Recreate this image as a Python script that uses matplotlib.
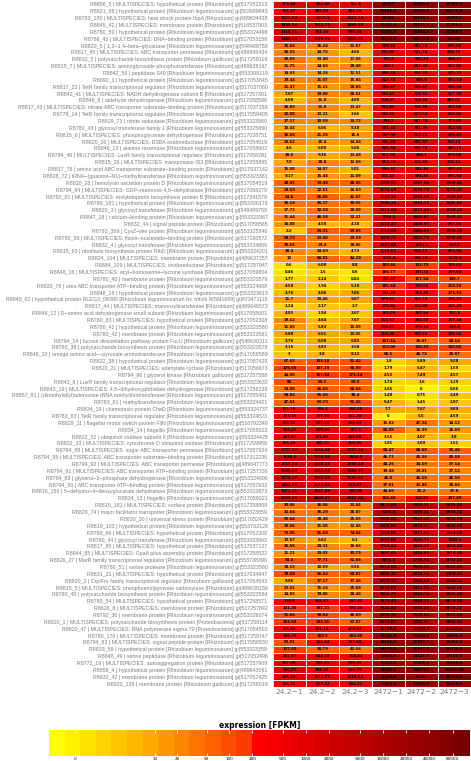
import numpy as np
import matplotlib
matplotlib.use('Agg')
import matplotlib.pyplot as plt
from matplotlib.colors import LinearSegmentedColormap, BoundaryNorm, ListedColormap

# row labels, top to bottom
genes = [
    "R8856_5 | MULTISPECIES: hypothetical protein [Rhizobium] gi|517052313",
    "R8821_88 | hypothetical protein [Rhizobium leguminosarum] gi|502689843",
    "R8783_180 | MULTISPECIES: heat shock protein IbpA [Rhizobium] gi|489634438",
    "R8845_42 | MULTISPECIES: membrane protein [Rhizobium] gi|516537903",
    "R8780_50 | hypothetical protein [Rhizobium leguminosarum] gi|553324498",
    "R8786_43 | MULTISPECIES: DNA\u2212binding protein [Rhizobium] gi|517053158",
    "R8820_5 | 1,3\u22121,4\u2212beta\u2212glycanase [Rhizobium leguminosarum] gi|548489758",
    "R8817_45 | MULTISPECIES: ABC transporter permease [Rhizobium] gi|489845434",
    "R8832_5 | polysaccharide biosynthesis protein [Rhizobium gallicum] gi|517259119",
    "R8815_7 | MULTISPECIES: aminoglycoside phosphotransferase [Rhizobium] gi|489638167",
    "R8842_56 | peptidase S49 [Rhizobium leguminosarum] gi|553308119",
    "R8892_1 | hypothetical protein [Rhizobium leguminosarum] gi|517053845",
    "R8817_23 | TetR family transcriptional regulator [Rhizobium leguminosarum] gi|517037060",
    "R8842_41 | MULTISPECIES: NADH dehydrogenase subunit B [Rhizobium] gi|517257301",
    "R8846_8 | aldehyde dehydrogenase [Rhizobium leguminosarum] gi|517058598",
    "R8817_43 | MULTISPECIES: nitrate ABC transporter substrate\u2212binding protein [Rhizobium] gi|517037159",
    "R8779_14 | TetR family transcriptional regulator [Rhizobium leguminosarum] gi|517059405",
    "R8829_73 | nitrite reductase [Rhizobium leguminosarum] gi|553323860",
    "R8780_43 | glycosyl transferase family 1 [Rhizobium leguminosarum] gi|553325860",
    "R8815_6 | MULTISPECIES: phosphoglycerate dehydrogenase [Rhizobium] gi|517038751",
    "R8820_26 | MULTISPECIES: DSBA oxidoreductase [Rhizobium] gi|517054519",
    "R8846_13 | alanine racemase [Rhizobium leguminosarum] gi|517058602",
    "R8794_46 | MULTISPECIES: LuxR family transcriptional regulator [Rhizobium] gi|517058291",
    "R8815_26 | MULTISPECIES: transposase IS3 [Rhizobium] gi|517055865",
    "R8817_78 | amino acid ABC transporter substrate\u2212binding protein [Rhizobium] gi|517037142",
    "R8828_72 | tRNA\u2212(guanine\u2212N1)\u2212methyltransferase [Rhizobium leguminosarum] gi|553323381",
    "R8820_28 | hemolysin secretion protein D [Rhizobium leguminosarum] gi|517054519",
    "R8794_84 | MULTISPECIES: GDP\u2212mannose 4,6\u2212dehydratase [Rhizobium] gi|517058279",
    "R8792_81 | MULTISPECIES: molybdopterin biosynthesis protein B [Rhizobium] gi|517341579",
    "R8780_181 | hypothetical protein [Rhizobium leguminosarum] gi|553326179",
    "R8820_3 | glycosyl transferase [Rhizobium leguminosarum] gi|548489758",
    "R8847_18 | calcium\u2212binding protein [Rhizobium leguminosarum] gi|553323367",
    "R8832_44 | signal peptide protein [Rhizobium] gi|517058565",
    "R8783_309 | CysZ\u2212like protein [Rhizobium leguminosarum] gi|553325846",
    "R8780_58 | MULTISPECIES: flavin\u2212nucleotide\u2212binding protein [Rhizobium] gi|517260572",
    "R8832_4 | glycosyl transferase [Rhizobium leguminosarum] gi|553324959",
    "R8815_63 | riboflavin biosynthesis protein RibD [Rhizobium leguminosarum] gi|553324201",
    "R8824_104 | MULTISPECIES: membrane protein [Rhizobium] gi|489637257",
    "R8884_109 | MULTISPECIES: oxidoreductase [Rhizobium] gi|517257947",
    "R8848_16 | MULTISPECIES: acyl\u2212homoserine\u2212lactone synthase [Rhizobium] gi|517059804",
    "R8780_40 | membrane protein [Rhizobium leguminosarum] gi|553323579",
    "R8820_76 | urea ABC transporter ATP\u2212binding protein [Rhizobium leguminosarum] gi|553324698",
    "R8848_18 | hypothetical protein [Rhizobium leguminosarum] gi|553323813",
    "R8840_62 | hypothetical protein RLEG3_09390 [Rhizobium leguminosarum bv. trifolii WSM1689] gi|673471116",
    "R8817_44 | MULTISPECIES: mannosyltransferase [Rhizobium] gi|489646573",
    "R8846_12 | D\u2212amino acid dehydrogenase small subunit [Rhizobium leguminosarum] gi|517058601",
    "R8780_83 | MULTISPECIES: hypothetical protein [Rhizobium] gi|517052308",
    "R8780_41 | hypothetical protein [Rhizobium leguminosarum] gi|553323580",
    "R8780_42 | membrane protein [Rhizobium leguminosarum] gi|553323581",
    "R8794_14 | fucose dissimilation pathway protein FucU [Rhizobium gallicum] gi|548630311",
    "R8780_39 | polysaccharide biosynthesis protein [Rhizobium leguminosarum] gi|553323578",
    "R8848_10 | omega amino acid\u2212\u2212pyruvate aminotransferase [Rhizobium leguminosarum] gi|517058589",
    "R8822_38 | hypothetical protein [Rhizobium leguminosarum] gi|517057429",
    "R8822_21 | MULTISPECIES: adenylate cyclase [Rhizobium] gi|517056673",
    "R8794_96 | glycerol kinase [Rhizobium gallicum] gi|517257588",
    "R8843_8 | LuxR family transcriptional regulator [Rhizobium leguminosarum] gi|553323632",
    "R8843_19 | MULTISPECIES: 4,5\u2212dihydroxyphthalate dehydrogenase [Rhizobium] gi|517258238",
    "R8857_81 | (dimethylallyl)adenosine tRNA methylthiotransferase [Rhizobium leguminosarum] gi|517055481",
    "R8783_81 | methyltransferase [Rhizobium leguminosarum] gi|553324421",
    "R8834_19 | chemotaxis protein CheD [Rhizobium leguminosarum] gi|553324737",
    "R8783_83 | TetR family transcriptional regulator [Rhizobium leguminosarum] gi|553324823",
    "R8829_11 | flagellar motor switch protein FliN [Rhizobium leguminosarum] gi|516792349",
    "R8834_14 | flagellin [Rhizobium leguminosarum] gi|517058022",
    "R8822_32 | ubiquinol oxidase subunit II [Rhizobium leguminosarum] gi|553324425",
    "R8822_33 | MULTISPECIES: cytochrome O ubiquinol oxidase [Rhizobium] gi|517259959",
    "R8794_88 | MULTISPECIES: sugar ABC transporter permease [Rhizobium] gi|517057934",
    "R8794_95 | MULTISPECIES: ABC transporter substrate\u2212binding protein [Rhizobium] gi|517312236",
    "R8794_92 | MULTISPECIES: ABC transporter permease [Rhizobium] gi|489647773",
    "R8794_91 | MULTISPECIES: ABC transporter ATP\u2212binding protein [Rhizobium] gi|517257336",
    "R8794_89 | glycerol\u22123\u2212phosphate dehydrogenase [Rhizobium leguminosarum] gi|553324006",
    "R8794_90 | ABC transporter ATP\u2212binding protein [Rhizobium leguminosarum] gi|517057932",
    "R8816_156 | 5\u2212dehydro\u22124\u2212deoxyglucarate dehydratase [Rhizobium leguminosarum] gi|553323873",
    "R8834_13 | flagellin [Rhizobium leguminosarum] gi|517058021",
    "R8815_181 | MULTISPECIES: surface protein [Rhizobium] gi|517258808",
    "R8829_74 | major facilitator transporter [Rhizobium leguminosarum] gi|553323859",
    "R8830_30 | universal stress protein [Rhizobium] gi|517052429",
    "R8819_103 | hypothetical protein [Rhizobium leguminosarum] gi|553733128",
    "R8780_66 | MULTISPECIES: hypothetical protein [Rhizobium] gi|517052308",
    "R8780_44 | glycosyl transferase [Rhizobium leguminosarum] gi|553323863",
    "R8817_85 | MULTISPECIES: hypothetical protein [Rhizobium] gi|517037127",
    "R8844_85 | MULTISPECIES: CpaA pilus assembly protein [Rhizobium] gi|517258522",
    "R8826_27 | MarR family transcriptional regulator [Rhizobium leguminosarum] gi|553738390",
    "R8780_51 | serine protease [Rhizobium leguminosarum] gi|553323580",
    "R8831_21 | MULTISPECIES: hypothetical protein [Rhizobium] gi|517034947",
    "R8820_2 | Crp/Fnr family transcriptional regulator [Rhizobium gallicum] gi|517054543",
    "R8815_5 | MULTISPECIES: phosphoenolpyruvate carboxylase [Rhizobium] gi|489638156",
    "R8780_45 | polysaccharide biosynthesis protein [Rhizobium leguminosarum] gi|553323584",
    "R8780_54 | MULTISPECIES: hypothetical protein [Rhizobium] gi|517258571",
    "R8826_8 | MULTISPECIES: membrane protein [Rhizobium] gi|517257842",
    "R8792_30 | membrane protein [Rhizobium leguminosarum] gi|553326074",
    "R8820_1 | MULTISPECIES: polysaccharide biosynthesis protein [Proteobacteria] gi|517258114",
    "R8820_47 | MULTISPECIES: RNA polymerase sigma 70 [Proteobacteria] gi|517054503",
    "R8780_176 | MULTISPECIES: membrane protein [Rhizobium] gi|517258747",
    "R8794_83 | MULTISPECIES: signal peptide protein [Rhizobium] gi|517058830",
    "R8833_59 | hypothetical protein [Rhizobium leguminosarum] gi|553323359",
    "R8848_49 | serine peptidase [Rhizobium leguminosarum] gi|517052496",
    "R8772_19 | MULTISPECIES: autoaggregation protein [Rhizobium] gi|517257909",
    "R8856_4 | hypothetical protein [Rhizobium leguminosarum] gi|489643061",
    "R8832_42 | membrane protein [Rhizobium leguminosarum] gi|517057425",
    "R8820_138 | membrane protein [Rhizobium gallicum] gi|517258019",
]

samples = ["24.2\u22121", "24.2\u22122", "24.2\u22123", "2472\u22121", "2472\u22122", "2472\u22123"]

# FPKM per sample
s24_1 = [878.68, 315.47, 1571.58, 1998.56, 1318.31, 1448.14, 35.66, 26.55, 30.83,
         21.75, 14.63, 19.44, 21.47, 7.67, 4.08, 26.83, 32.08, 27.17,
         10.44, 36.66, 20.62, 4.6, 18.6, 7.8, 15.08, 9.17, 48.65,
         29.69, 54.6, 36.18, 17.72, 21.44, 16.08, 2.6, 58.72, 30.63,
         18.4, 12, 0.6, 0.46, 1.77, 4.58, 3.76, 11.7, 1.24,
         4.03, 19.12, 11.65, 6.88, 3.76, 3.16, 3, 67.63, 126.65,
         44.08, 86, 34.08, 58.84, 47.61, 301.16, 274.65, 466.65, 666.05,
         407.07, 396.26, 2777.17, 1680.6, 1717.74, 1198.29, 1478.27, 1464.35, 1312.31,
         2159.35, 30.06, 32.64, 55.64, 30.66, 73.06, 13.67, 36.55, 11.21,
         94.4, 18.15, 78.68, 8.86, 23.61, 14.65, 336.6, 141.26, 91.66,
         154.68, 385.66, 226.78, 83.01, 137.89, 212.87, 987.66, 860.05, 855.42, 325.16]
s24_2 = [864.88, 409.88, 1352.1, 1652.71, 741.18, 1157.76, 26.24, 14.76, 13.48,
         14.66, 14.26, 21.07, 15.11, 19.08, 11.8, 21.8, 13.21, 20.59,
         6.06, 21.26, 15.4, 6.08, 9.36, 18.8, 14.07, 15.44, 59.48,
         22.61, 66.06, 30.37, 32.58, 46.58, 4.58, 69.31, 33.08, 29.4,
         14.69, 60.31, 6.08, 1.5, 2.14, 1.94, 4.66, 10.46, 2.17,
         1.94, 4.64, 5.83, 6.51, 6.68, 3.83, 3.8, 109.18, 107.29,
         167.84, 69.5, 56.66, 65.36, 63.79, 305.8, 199.66, 625.18, 679.66,
         405.85, 400.91, 1633.46, 2030.56, 1460.21, 1262.76, 1061.58, 1216.84, 1047.86,
         4609.27, 36.06, 36.29, 28.48, 15.08, 61.68, 6.62, 29.31, 29.03,
         77.71, 10.69, 56.52, 37.17, 15.16, 19.06, 316.61, 191.21, 98.64,
         143.66, 471.18, 160.5, 226.64, 58.79, 544.28, 906.41, 398.66, 1071.77, 549.42]
s24_3 = [761.8, 404.16, 1352.79, 1495.58, 895.48, 1408.76, 21.67, 4.66, 17.06,
         18.48, 12.51, 15.84, 28.66, 26.51, 4.08, 13.47, 3.66, 24.72,
         8.18, 15.6, 14.84, 5.66, 13.48, 12.66, 5.01, 11.09, 48.45,
         16.69, 41.07, 30.65, 18.09, 22.21, 4.18, 59.65, 29.59, 18.05,
         4.73, 44.29, 8.8, 0.6, 0.84, 5.18, 7.06, 9.67, 2.7,
         2.07, 7.67, 15.09, 10.05, 6.83, 3.68, 8.13, 91.42, 96.99,
         171.14, 69.9, 68.66, 38.4, 91.36, 306.08, 321.28, 466.82, 487.6,
         368.08, 316.66, 1787.13, 1844.9, 1585.24, 1365.37, 1187.61, 969.47, 987.08,
         3811.85, 23.04, 26.87, 25.65, 12.46, 74.04, 6.1, 16.66, 30.79,
         61.66, 6.56, 58.87, 37.46, 25.68, 18.46, 247.02, 225.26, 46.69,
         67.87, 479.27, 184.68, 747.03, 42.56, 218.41, 848.15, 446.79, 1218.64, 504.21]
s2472_1 = [45427, 50831.6, 48309, 42321.6, 71461.4, 49318.3, 608.66, 735.65, 737.8,
           658.7, 895.34, 613.56, 686.47, 738.62, 718.87, 788.85, 795.65, 796.5,
           881.61, 957.06, 805.02, 845.84, 811.06, 852.12, 596.67, 482.47, 1168.55,
           1174.69, 1247.11, 1386.15, 1411.64, 1565.1, 1418.47, 1718.66, 1609.73, 1887.04,
           1215.63, 1191.8, 183.66, 166.77, 255.47, 185.44, 203.47, 379.61, 378.01,
           260.09, 313.57, 356.37, 416.86, 117.61, 113.06, 66.1, 1.8, 1.79,
           4.52, 1.74, 1.65, 1.48, 5.47, 7.7, 0, 15.62, 60.99,
           3.55, 1.81, 68.47, 46.71, 44.26, 19.48, 46.8, 37.61, 44.66,
           164.46, 6815.69, 6295.6, 5200.66, 5088.66, 1453.65, 2167.66, 1763.64, 1697.61,
           6096.6, 6114.66, 4880.21, 6759.11, 5118.68, 4655.73, 7670.43, 7546.84, 8468.71,
           6013.67, 11318.8, 22461.8, 26560.3, 56175.1, 19015.6, 26465.5, 39086.7, 94164.6, 23860.3]
s2472_2 = [46809.4, 52813.7, 50916.1, 39571.2, 65684.8, 54513.6, 662.13, 621.18, 606.34,
           653.43, 844.28, 685.6, 646.47, 718.61, 718.65, 748.88, 629.53, 681.72,
           781.91, 919.15, 885.87, 897.72, 686.1, 474.83, 591.36, 592.46, 1267.08,
           1173.79, 1293.59, 1363.38, 1277.48, 1665.67, 1408.99, 1486.89, 1083.79, 1611.1,
           946.11, 995.19, 193.78, 197.76, 117.58, 290.04, 251.35, 303.73, 376.09,
           290.84, 283.09, 270.14, 308.56, 36.07, 136.36, 46.78, 5.89, 6.47,
           7.49, 1.6, 0, 0.75, 1.45, 7.67, 5.5, 47.34, 16.99,
           4.07, 3.09, 66.68, 45.36, 34.59, 29.01, 46.58, 33.86, 33.2,
           218.83, 6909.91, 5660.21, 5917.47, 4873.41, 1471.85, 1622.76, 1664.46, 1416.66,
           5795.96, 5505.46, 4634.15, 4356.69, 5421.55, 5916.76, 6864.15, 6615.48, 8100.64,
           6663.47, 11994.4, 16829.6, 21807.7, 51547.3, 19025.5, 17668.8, 38479.3, 26047, 23014.8]
s2472_3 = [41949.5, 54213.8, 51050.1, 32236.6, 64066.5, 50488, 695.06, 434.75, 568.37,
           562.05, 625.25, 672.59, 666.64, 617.98, 483.07, 688.06, 658.86, 773.01,
           814.88, 856.41, 758.14, 803.18, 579.06, 732.11, 693.42, 595.64, 1308.41,
           1271.27, 1348.84, 1485.06, 1298.18, 1168.21, 957.56, 1506.21, 1395.06, 962.7,
           875.86, 1329.6, 198.86, 199.66, 108.7, 110.36, 173.63, 236.37, 215.42,
           217.3, 253.44, 224.8, 308.84, 68.14, 150.66, 30.87, 9.28, 1.59,
           4.57, 1.29, 0.66, 2.49, 2.87, 9.89, 4.59, 14.12, 16.69,
           3.8, 1.51, 56.46, 55.58, 37.14, 27.12, 46.56, 18.66, 37.6,
           187.69, 5635.46, 5983.11, 5156.79, 5664.66, 1414.78, 1989.6, 1658.44, 1416.66,
           5592.12, 6182.56, 5309.17, 6204.74, 5642.06, 5661.26, 6479.56, 6576.27, 8915.66,
           6866.64, 13157.6, 19896.6, 18456.6, 51675.8, 19185.6, 25125.6, 36616.88, 87304.1, 21318.3]

cbar_ticks = [0, 10, 20, 50, 100, 200, 500, 1000, 2000, 5000, 10000, 20000, 40000, 80000]

vals = np.array([s24_1, s24_2, s24_3, s2472_1, s2472_2, s2472_3]).T
logv = np.log10(vals + 1)

# discrete yellow -> orange -> red -> dark red scale on log10(FPKM+1)
vmin, vmax, nlev = -0.34, 5.13, 27
base = LinearSegmentedColormap.from_list('fpkm', [
    (0.0, '#FFFF00'), (0.24, '#FFA500'), (0.462, '#FF3C00'),
    (0.5, '#FF0000'), (1.0, '#7A0000')])
cmap = ListedColormap(base(np.linspace(0, 1, nlev)))
bounds = np.linspace(vmin, vmax, nlev + 1)
norm = BoundaryNorm(bounds, nlev)

W, H = 471, 761
fig = plt.figure(figsize=(W / 100, H / 100), dpi=100)

ax = fig.add_axes([273 / W, 1 - 687 / H, 198 / W, 686 / H])
nr, nc = vals.shape
ax.pcolormesh(np.arange(nc + 1), np.arange(nr + 1), logv, cmap=cmap, norm=norm,
              edgecolors='#f3e6e6', linewidth=0.4)
ax.set_xlim(0, nc)
ax.set_ylim(nr, 0)
for s in ax.spines.values():
    s.set_visible(False)

for i in range(nr):
    for j in range(nc):
        txt = f"{vals[i, j]:.2f}".rstrip('0').rstrip('.')
        ax.text(j + 0.5, i + 0.5, txt, ha='center', va='center',
                fontsize=2.7, fontweight='bold', color='black')

ax.set_yticks(np.arange(nr) + 0.5)
ax.set_yticklabels(genes, fontsize=3.75, color='#7a7a7a', family='Liberation Sans')
ax.set_xticks(np.arange(nc) + 0.5)
ax.set_xticklabels(samples, fontsize=5.4, color='#7a7a7a')
ax.tick_params(length=0, pad=1.5)
ax.tick_params(axis='y', pad=4)

# colour key
cax = fig.add_axes([49 / W, 1 - 756 / H, 421 / W, 26 / H])
cax.pcolormesh(bounds, [0, 1], (bounds[:-1] + bounds[1:])[None, :] / 2,
               cmap=cmap, norm=norm)
cax.set_xlim(vmin, vmax)
cax.set_ylim(0, 1)
cax.set_yticks([])
cax.set_xticks(np.log10(np.array(cbar_ticks) + 1))
cax.set_xticklabels([str(t) for t in cbar_ticks], fontsize=3)
cax.tick_params(axis='x', direction='in', color='white', length=2.5, width=0.6,
                pad=0.8, top=True)
for s in cax.spines.values():
    s.set_visible(False)
fig.text(259.5 / W, 1 - 725 / H, 'expression [FPKM]', ha='center', va='center',
         fontsize=5.5, fontweight='bold')

fig.savefig('out.png', dpi=100)
